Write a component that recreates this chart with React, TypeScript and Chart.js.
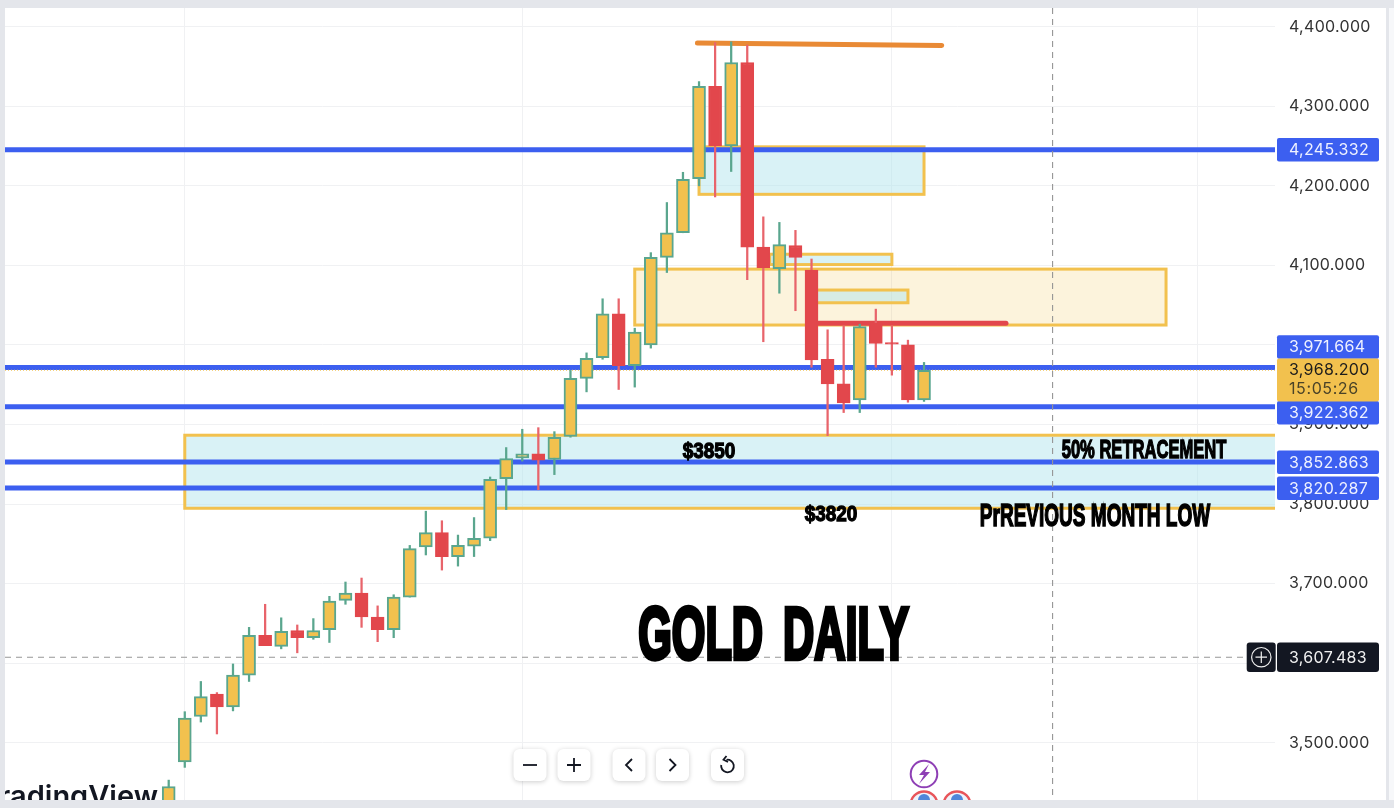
import React, { useEffect, useRef } from "react";
import { Chart, registerables } from "chart.js";

Chart.register(...registerables);

// ---- data ----
const opens = [3389,3476,3533,3561,3545,3585,3635,3621,3641,3632,3642,3679,3688,3658,3642,3683,3746,3764,3734,3747,3757,3832,3858,3863,3856,3885,3958,3984,4039,3974,4000,4110,4141,4209,4325,4250,4355,4123,4096,4125,4094,3982,3951,3931,4027,4003,4000,3931];
const highs = [3453,3539,3577,3563,3599,3645,3674,3657,3648,3656,3684,3702,3707,3672,3686,3748,3791,3779,3761,3783,3834,3871,3894,3896,3891,3968,3990,4058,4058,4021,4116,4179,4217,4331,4380,4381,4377,4161,4154,4144,4108,4019,4024,4026,4045,4024,4006,3978];
const lows = [3385,3469,3526,3511,3540,3577,3622,3618,3613,3630,3626,3674,3645,3627,3632,3683,3736,3717,3722,3734,3754,3793,3854,3818,3837,3884,3941,3982,3944,3947,3996,4091,4141,4200,4186,4218,4082,4004,4065,4043,3972,3886,3915,3915,3972,3962,3928,3929];
const closes = [3445,3531,3558,3545,3585,3635,3622,3640,3632,3641,3678,3688,3658,3642,3683,3744,3764,3734,3748,3757,3831,3857,3863,3855,3884,3958,3983,4039,3974,4016,4110,4141,4208,4325,4250,4355,4123,4097,4126,4110,3981,3951,3927,4023,4002,4001,3931,3968.2];

const priceTicks = [3500,3600,3700,3800,3900,4000,4100,4200,4300,4400];
const sessionGrid = [1,22,45,64];
const levels = [4245.332,3971.664,3922.362,3852.863,3820.287];
const lastPrice = 3968.2;
const lastCountdown = "15:05:26";
const crossPrice = 3607.483;
const crossSession = 55;
// [session from, session to, price top, price bottom]
const blueZones = [[1,72,3886.5,3794.7],[33,47,4249,4189.3],[37.4,45,4114,4101]];
const creamZones = [[29,62.06,4095.3,4025]];
const greenZones = [[40,46,4069,4053]];
// [session from, price from, session to, price to]
const orangeTrend = [32.9,4379.6,48.1,4376.5];
const redTrend = [40,4027.4,52.1,4027.4];

// ---- style ----
const PAGE = "#e4e6eb", WHITE = "#ffffff", GOLD = "#f2c14e", GREEN = "#5aa68e", RED = "#e2474c", REDWICK = "#e8646b", BLUE = "#3c5ff0", INK = "#131722";
const sessionMin = -10.187, sessionMax = 68.84, priceMin = 3428, priceMax = 4423.5;
const tagOffsets = [0,-20.5,6,0.3,0.3];
const fmt = (v: number) => v.toLocaleString("en-US", { minimumFractionDigits: 3, maximumFractionDigits: 3 });
const up = (i: number) => closes[i] >= opens[i];

function heavy(ctx: any, text: string, left: number, right: number, baseline: number, cap: number, stroke: number, gap = 0) {
  const size = cap / 0.72;
  ctx.save();
  ctx.letterSpacing = "0px";
  ctx.wordSpacing = `${gap}px`;
  ctx.font = `bold ${size}px "Liberation Sans"`;
  ctx.textAlign = "left";
  ctx.textBaseline = "alphabetic";
  const sx = (right - left - stroke) / ctx.measureText(text).width;
  ctx.translate(left + stroke / 2, baseline);
  ctx.scale(sx, 1);
  ctx.fillStyle = "#000";
  ctx.strokeStyle = "#000";
  ctx.lineWidth = stroke;
  ctx.lineJoin = "miter";
  ctx.fillText(text, 0, 0);
  ctx.strokeText(text, 0, 0);
  ctx.restore();
}

function rr(ctx: any, x: number, y: number, w: number, h: number, r: number) {
  ctx.beginPath();
  ctx.roundRect(x, y, w, h, r);
}

function button(ctx: any, x: number, draw: (cx: number, cy: number) => void) {
  const y = 749, w = 33, h = 32;
  ctx.save();
  ctx.shadowColor = "rgba(0,0,0,0.2)";
  ctx.shadowBlur = 5;
  ctx.shadowOffsetY = 1;
  ctx.fillStyle = WHITE;
  rr(ctx, x, y, w, h, 6);
  ctx.fill();
  ctx.restore();
  ctx.save();
  ctx.strokeStyle = INK;
  ctx.lineWidth = 1.8;
  ctx.beginPath();
  draw(x + w / 2, y + h / 2);
  ctx.stroke();
  ctx.restore();
}

const backdrop = {
  id: "backdrop",
  beforeDraw(c: any) {
    const { ctx } = c;
    ctx.letterSpacing = "0.3px";
    ctx.save();
    ctx.fillStyle = PAGE;
    ctx.fillRect(0, 0, 1394, 808);
    ctx.fillStyle = "#f7f8fa";
    ctx.fillRect(1389, 8, 5, 792);
    ctx.fillStyle = WHITE;
    ctx.fillRect(5, 8, 1381, 792);
    ctx.restore();
  },
};

const drawings = {
  id: "drawings",
  beforeDatasetsDraw(c: any) {
    const { ctx, chartArea: a, scales: { x, y } } = c;
    ctx.save();
    ctx.beginPath();
    ctx.rect(a.left, a.top, a.right - a.left, a.bottom - a.top);
    ctx.clip();
    const zone = (z: number[], fill: string) => {
      const l = x.getPixelForValue(z[0]), r = x.getPixelForValue(z[1]);
      const t = y.getPixelForValue(z[2]), b = y.getPixelForValue(z[3]);
      ctx.fillStyle = fill;
      ctx.fillRect(l, t, r - l, b - t);
      ctx.strokeStyle = GOLD;
      ctx.lineWidth = 3;
      ctx.strokeRect(l, t, r - l, b - t);
    };
    blueZones.forEach((z) => zone(z, "rgba(176,227,236,0.48)"));
    creamZones.forEach((z) => zone(z, "rgba(242,193,78,0.2)"));
    greenZones.forEach((z) => zone(z, "rgba(176,227,236,0.48)"));
    ctx.lineCap = "butt";
    ctx.strokeStyle = BLUE;
    ctx.lineWidth = 5;
    levels.forEach((l) => {
      const p = y.getPixelForValue(l);
      ctx.beginPath();
      ctx.moveTo(a.left, p);
      ctx.lineTo(a.right, p);
      ctx.stroke();
    });
    ctx.strokeStyle = GOLD;
    ctx.lineWidth = 1;
    ctx.setLineDash([1, 2]);
    const lp = y.getPixelForValue(lastPrice);
    ctx.beginPath();
    ctx.moveTo(a.left, lp);
    ctx.lineTo(a.right, lp);
    ctx.stroke();
    ctx.strokeStyle = "#969696";
    ctx.lineWidth = 1.1;
    ctx.setLineDash([6, 5]);
    const cp = y.getPixelForValue(crossPrice), cx = x.getPixelForValue(crossSession);
    ctx.beginPath();
    ctx.moveTo(a.left, cp);
    ctx.lineTo(1262, cp);
    ctx.moveTo(cx, a.top);
    ctx.lineTo(cx, a.bottom);
    ctx.stroke();
    ctx.setLineDash([]);
    const trend = (t: number[], colour: string) => {
      ctx.strokeStyle = colour;
      ctx.lineWidth = 5;
      ctx.lineCap = "round";
      ctx.beginPath();
      ctx.moveTo(x.getPixelForValue(t[0]), y.getPixelForValue(t[1]));
      ctx.lineTo(x.getPixelForValue(t[2]), y.getPixelForValue(t[3]));
      ctx.stroke();
    };
    trend(orangeTrend, "#e98a35");
    trend(redTrend, RED);
    ctx.restore();
  },
  afterDraw(c: any) {
    const { ctx, scales: { y } } = c;
    ctx.save();
    // TradingView logotype, cut by the frame
    ctx.save();
    ctx.beginPath();
    ctx.rect(5, 8, 1381, 792);
    ctx.clip();
    ctx.letterSpacing = "0px";
    ctx.font = '600 29px Inter';
    ctx.textAlign = "right";
    ctx.textBaseline = "alphabetic";
    ctx.fillStyle = INK;
    ctx.fillText("TradingView", 158, 806);
    // event markers
    ctx.lineWidth = 2;
    ctx.strokeStyle = "#8e3fb5";
    ctx.beginPath();
    ctx.arc(924, 774, 13.3, 0, Math.PI * 2);
    ctx.stroke();
    ctx.fillStyle = "#8e3fb5";
    ctx.beginPath();
    ctx.moveTo(929, 764); ctx.lineTo(919, 775); ctx.lineTo(924, 775); ctx.lineTo(919, 784);
    ctx.lineTo(930, 772); ctx.lineTo(925, 772); ctx.closePath();
    ctx.fill();
    [924, 957].forEach((fx) => {
      ctx.fillStyle = "#eef3fb";
      ctx.strokeStyle = "#e8555a";
      ctx.lineWidth = 2.4;
      ctx.beginPath();
      ctx.arc(fx, 805, 13.5, 0, Math.PI * 2);
      ctx.fill();
      ctx.stroke();
      ctx.fillStyle = "#4f86d9";
      ctx.beginPath();
      ctx.arc(fx, 800, 6, Math.PI, 0);
      ctx.fill();
    });
    ctx.restore();

    // price tags
    ctx.letterSpacing = "0.3px";
    ctx.font = '16px Inter';
    ctx.textBaseline = "middle";
    ctx.textAlign = "left";
    const tag = (cy: number, label: string, fill: string, fg: string) => {
      ctx.fillStyle = fill;
      rr(ctx, 1277, cy - 11.7, 102, 23.4, 2);
      ctx.fill();
      ctx.fillStyle = fg;
      ctx.fillText(label, 1289, cy + 0.5);
    };
    levels.forEach((l, i) => tag(y.getPixelForValue(l) + tagOffsets[i], fmt(l), BLUE, "#eef1ff"));
    ctx.fillStyle = GOLD;
    rr(ctx, 1277, 358.5, 102, 43, 2);
    ctx.fill();
    ctx.fillStyle = "#1c1c1c";
    ctx.fillText(fmt(lastPrice), 1289, 370);
    ctx.fillStyle = "#4a4328";
    ctx.letterSpacing = "0.6px";
    ctx.fillText(lastCountdown, 1289, 389);
    ctx.letterSpacing = "0.3px";
    const cy = y.getPixelForValue(crossPrice);
    ctx.fillStyle = INK;
    rr(ctx, 1277, cy - 14.7, 102, 29.4, 3);
    ctx.fill();
    rr(ctx, 1246.7, cy - 14.7, 29, 29.4, 3);
    ctx.fill();
    ctx.fillStyle = "#f0f0f0";
    ctx.fillText(fmt(crossPrice), 1289, cy + 0.5);
    ctx.strokeStyle = "#f0f0f0";
    ctx.lineWidth = 1.2;
    ctx.beginPath();
    ctx.arc(1261.3, cy, 9.7, 0, Math.PI * 2);
    ctx.moveTo(1255.5, cy); ctx.lineTo(1267, cy);
    ctx.moveTo(1261.3, cy - 5.8); ctx.lineTo(1261.3, cy + 5.8);
    ctx.stroke();

    // notes typed on the picture
    heavy(ctx, "GOLD DAILY", 636, 911, 659, 54, 4.5, 14);
    heavy(ctx, "$3850", 682, 736, 458, 16.5, 1.3);
    heavy(ctx, "$3820", 804, 858, 521, 16.5, 1.3);
    heavy(ctx, "50% RETRACEMENT", 1061, 1227, 458, 18.5, 1.4);
    heavy(ctx, "PrREVIOUS MONTH LOW", 979, 1211, 525.5, 22.5, 1.6);

    // chart toolbar
    button(ctx, 513.5, (cx, cy) => { ctx.moveTo(cx - 7, cy); ctx.lineTo(cx + 7, cy); });
    button(ctx, 557.5, (cx, cy) => { ctx.moveTo(cx - 7, cy); ctx.lineTo(cx + 7, cy); ctx.moveTo(cx, cy - 7); ctx.lineTo(cx, cy + 7); });
    button(ctx, 612.5, (cx, cy) => { ctx.moveTo(cx + 3, cy - 6); ctx.lineTo(cx - 3, cy); ctx.lineTo(cx + 3, cy + 6); });
    button(ctx, 656, (cx, cy) => { ctx.moveTo(cx - 3, cy - 6); ctx.lineTo(cx + 3, cy); ctx.lineTo(cx - 3, cy + 6); });
    button(ctx, 711, (cx, cy) => {
      ctx.arc(cx, cy + 1, 6.3, -Math.PI * 0.55, Math.PI * 1.05);
      ctx.moveTo(cx - 1, cy - 9); ctx.lineTo(cx - 4, cy - 5.2); ctx.lineTo(cx + 0.5, cy - 3);
    });
    ctx.restore();
  },
};

export default function App() {
  const ref = useRef<HTMLCanvasElement>(null);
  useEffect(() => {
    const idx = opens.map((_, i) => i);
    const chart = new Chart(ref.current as any, {
      type: "bar",
      data: {
        datasets: [
          {
            label: "Body",
            order: 1,
            grouped: false,
            barThickness: 13,
            borderSkipped: false,
            borderWidth: 2,
            data: idx.map((i) => ({ x: i, y: [opens[i], closes[i]] })),
            backgroundColor: idx.map((i) => (up(i) ? GOLD : RED)),
            borderColor: idx.map((i) => (up(i) ? GREEN : RED)),
          } as any,
          {
            label: "Wick",
            order: 2,
            grouped: false,
            barThickness: 1.6,
            borderWidth: 0,
            data: idx.map((i) => ({ x: i, y: [lows[i], highs[i]] })),
            backgroundColor: idx.map((i) => (up(i) ? GREEN : REDWICK)),
          } as any,
        ],
      },
      options: {
        responsive: false,
        animation: false,
        events: [],
        layout: { padding: { left: 5, top: 8, right: 8, bottom: 8 } },
        plugins: { legend: { display: false }, tooltip: { enabled: false }, title: { display: false } },
        scales: {
          x: {
            type: "linear",
            offset: false,
            min: sessionMin,
            max: sessionMax,
            border: { display: false },
            grid: { color: "#f0f1f3", drawTicks: false, lineWidth: 1, offset: false },
            ticks: { display: false },
            afterBuildTicks: (s: any) => { s.ticks = sessionGrid.map((value) => ({ value })); },
            afterFit: (s: any) => { s.height = 0; s.paddingLeft = 0; s.paddingRight = 0; },
          },
          y: {
            type: "linear",
            position: "right",
            min: priceMin,
            max: priceMax,
            border: { display: false },
            grid: { color: "#f0f1f3", drawTicks: false, lineWidth: 1 },
            ticks: {
              padding: 14,
              autoSkip: false,
              font: { family: "Inter", size: 16 },
              color: "#333333",
              callback: (v: any) => fmt(Number(v)),
            },
            afterBuildTicks: (s: any) => { s.ticks = priceTicks.map((value) => ({ value })); },
            afterFit: (s: any) => { s.width = 111; s.paddingTop = 0; s.paddingBottom = 0; },
          },
        },
      } as any,
      plugins: [backdrop, drawings],
    });
    return () => chart.destroy();
  }, []);
  return (
    <canvas
      ref={ref}
      width={1394}
      height={808}
      style={{ position: "fixed", left: 0, top: 0, width: 1394, height: 808, display: "block" }}
    />
  );
}
